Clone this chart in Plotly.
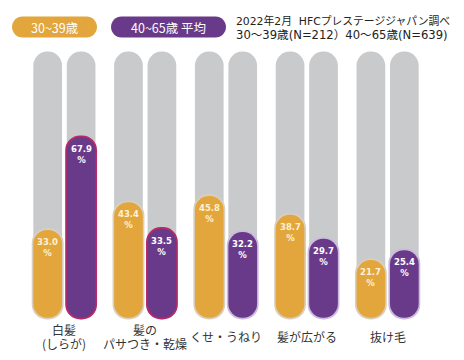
import plotly.graph_objects as go

categories = ["白髪<br>(しらが)", "髪の<br>パサつき・乾燥", "くせ・うねり", "髪が広がる", "抜け毛"]
age_30_39 = [33.0, 43.4, 45.8, 38.7, 21.7]
age_40_65 = [67.9, 33.5, 32.2, 29.7, 25.4]
purple_borders = ["#b52a68", "#b52a68", "#cbbbdc", "#cbbbdc", "#cbbbdc"]
series_names = ["30~39歳", "40~65歳 平均"]
note_lines = ["2022年2月  HFCプレステージジャパン調べ", "30～39歳(N=212）40～65歳(N=639)"]

ORANGE = "#e2a63c"
PURPLE = "#6a3a8a"
GREY = "#c9cacc"
BEIGE = "#d9cfbf"
FONT = "Noto Sans CJK JP"
NOTE_FONT = "DejaVu Sans, Noto Sans CJK JP"

W, H = 464, 360
ML, MR, MT, MB = 24, 36, 50.4, 38.8
PW, PH = W - ML - MR, H - MT - MB
YMIN, YMAX = -1.2, 100.6

def paper_x(px):
    return (px - ML) / PW

def paper_y(py):
    return (H - MB - py) / PH

OFF = 0.207
BW = 0.355
UNIT_PX = PH / (YMAX - YMIN)  # px per data unit
BORDER = 1.6  # px

fig = go.Figure()

def add_pill(xs, tops, bottom, width, color):
    fig.add_trace(go.Bar(x=xs, base=[bottom] * len(xs),
                         y=[t - bottom for t in tops],
                         width=width, marker=dict(color=color, cornerradius="50%", line_width=0),
                         showlegend=False, hoverinfo="skip"))

n = len(categories)
xo = [i - OFF for i in range(n)]
xp = [i + OFF for i in range(n)]

# grey background pills (100%)
add_pill(xo + xp, [100] * (2 * n), 0, BW, GREY)

bd = BORDER / UNIT_PX
bw_border = BW + 2 * BORDER / (PW / 5)
# orange
add_pill(xo, [v + bd for v in age_30_39], -bd, bw_border, BEIGE)
add_pill(xo, age_30_39, 0, BW, ORANGE)
# purple
add_pill(xp, [v + bd for v in age_40_65], -bd, bw_border, purple_borders)
add_pill(xp, age_40_65, 0, BW, PURPLE)

annotations = []
for x, v in zip(xo, age_30_39):
    annotations.append(dict(x=x, y=v, xref="x", yref="y", yanchor="top", yshift=-5,
                            text=f"{v:.1f}<br>%", showarrow=False,
                            font=dict(family="DejaVu Sans", size=8.5, color="#fdf1d6", weight="bold")))
for x, v in zip(xp, age_40_65):
    annotations.append(dict(x=x, y=v, xref="x", yref="y", yanchor="top", yshift=-5,
                            text=f"{v:.1f}<br>%", showarrow=False,
                            font=dict(family="DejaVu Sans", size=8.5, color="#ffffff", weight="bold")))

for i, c in enumerate(categories):
    parts = c.split("<br>")
    ys = [337] if len(parts) == 1 else [330, 344]
    for part, py in zip(parts, ys):
        annotations.append(dict(x=i, y=paper_y(py), xref="x", yref="paper", yanchor="middle",
                                text=part, showarrow=False,
                                font=dict(family=FONT, size=12, color="#333333")))

# legend pills
k = 0.5523
def pill_path(wpx, hpx):
    r = hpx / 2
    a = wpx / 2 - r
    return (f"M {-a},{-r} L {a},{-r} C {a + k * r},{-r} {a + r},{-k * r} {a + r},0 "
            f"C {a + r},{k * r} {a + k * r},{r} {a},{r} L {-a},{r} "
            f"C {-a - k * r},{r} {-a - r},{k * r} {-a - r},0 "
            f"C {-a - r},{-k * r} {-a - k * r},{-r} {-a},{-r} Z")

shapes = []
legend_specs = [(54.5, 85, ORANGE, series_names[0]), (168.5, 115, PURPLE, series_names[1])]
for cx, wpx, col, name in legend_specs:
    shapes.append(dict(type="path", xref="paper", yref="paper",
                       xsizemode="pixel", ysizemode="pixel",
                       xanchor=paper_x(cx), yanchor=paper_y(27.5),
                       path=pill_path(wpx, 21), fillcolor=col, line_width=0, layer="above"))
    annotations.append(dict(x=paper_x(cx), y=paper_y(27.5), xref="paper", yref="paper",
                            xanchor="center", yanchor="middle", text=name, showarrow=False,
                            font=dict(family=FONT, size=12.5, color="#ffffff")))

for line, py, sz in zip(note_lines, [21.0, 35.5], [10.8, 11.6]):
    annotations.append(dict(x=paper_x(234), y=paper_y(py), xref="paper", yref="paper",
                            xanchor="left", yanchor="middle", align="left",
                            text=line, showarrow=False,
                            font=dict(family=NOTE_FONT, size=sz, color="#222222")))

fig.update_layout(
    width=W, height=H,
    margin=dict(l=ML, r=MR, t=MT, b=MB, pad=0),
    paper_bgcolor="white", plot_bgcolor="white",
    barmode="overlay",
    xaxis=dict(range=[-0.5, n - 0.5], visible=False, fixedrange=True),
    yaxis=dict(range=[YMIN, YMAX], visible=False, fixedrange=True),
    annotations=annotations, shapes=shapes, showlegend=False,
)

fig.write_html("out.html", config={"displayModeBar": False},
               post_script="document.body.style.margin='0';")
